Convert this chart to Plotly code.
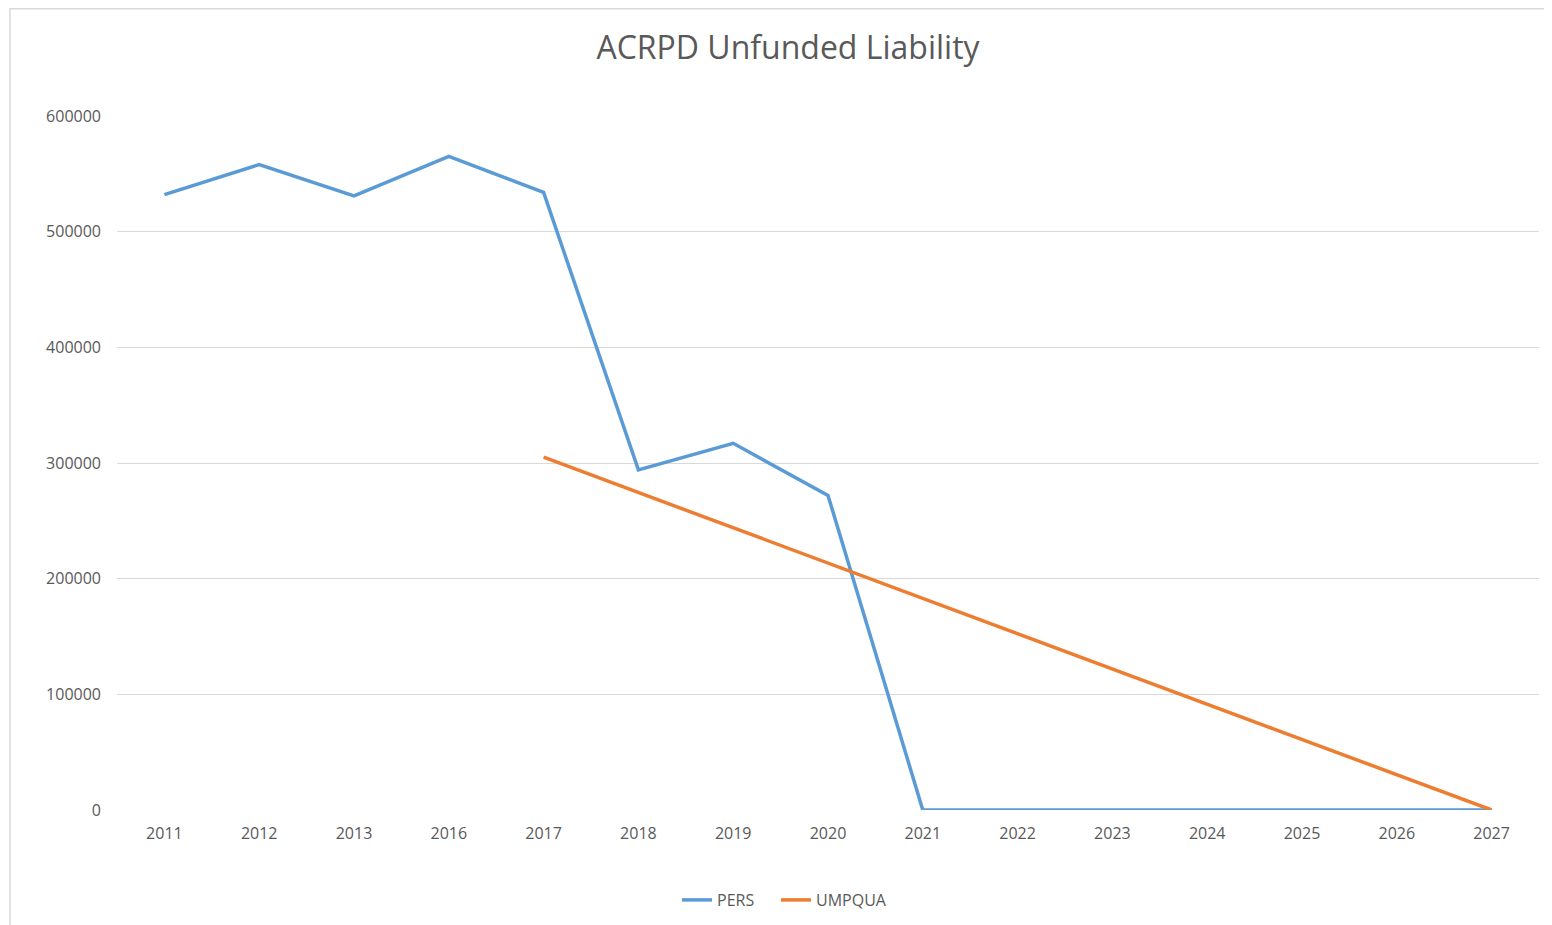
import plotly.graph_objects as go

years = ["2011", "2012", "2013", "2016", "2017", "2018", "2019", "2020",
         "2021", "2022", "2023", "2024", "2025", "2026", "2027"]
pers = [532000, 558000, 531000, 565000, 534000, 294000, 317000, 272000,
        0, 0, 0, 0, 0, 0, 0]
umpqua_years = ["2017", "2018", "2019", "2020", "2021", "2022", "2023",
                "2024", "2025", "2026", "2027"]
umpqua = [305000, 274500, 244000, 213500, 183000, 152500, 122000,
          91500, 61000, 30500, 0]
y_ticks = [0, 100000, 200000, 300000, 400000, 500000, 600000]

FONT = "Open Sans"
TXT = "#595959"
GRID = "#d9d9d9"

# page body has an 8px margin; work in page coordinates and subtract it
OFF = 8
W, H = 1552 - OFF, 925 - OFF
L, R, T, B = 117 - OFF, 13, 116 - OFF, 115
pw, ph = W - L - R, H - T - B


def px(x):
    return (x - OFF - L) / pw


def py(y):
    return (H - B - (y - OFF)) / ph


fig = go.Figure()
fig.add_trace(go.Scatter(x=years, y=pers, mode="lines", name="PERS",
                         line=dict(color="#5b9bd5", width=3.5)))
fig.add_trace(go.Scatter(x=umpqua_years, y=umpqua, mode="lines", name="UMPQUA",
                         line=dict(color="#ed7d31", width=3.5)))
# empty legend spacer so the last entry's text is not clipped by entrywidth
fig.add_trace(go.Scatter(x=[None], y=[None], mode="lines", name=" ",
                         line=dict(color="rgba(0,0,0,0)", width=0),
                         hoverinfo="skip", showlegend=True))

fig.add_shape(type="path", xref="paper", yref="paper",
              path=f"M {px(10)} {py(940)} L {px(10)} {py(8.7)} L {px(1570)} {py(8.7)}",
              line=dict(color=GRID, width=1.5), layer="below")

fig.update_layout(
    width=W, height=H,
    margin=dict(l=L, r=R, t=T, b=B, autoexpand=False),
    paper_bgcolor="white", plot_bgcolor="white",
    title=dict(text="ACRPD Unfunded Liability",
               xref="container", x=(788 - OFF) / W, xanchor="center",
               yref="container", y=1 - (48 - OFF) / H, yanchor="middle",
               font=dict(family=FONT, size=32, color=TXT)),
    font=dict(family=FONT, color=TXT),
    showlegend=True,
    legend=dict(orientation="h", x=px(677), xanchor="left",
                y=py(900), yanchor="middle",
                font=dict(family=FONT, size=16, color=TXT),
                entrywidth=54, entrywidthmode="pixels",
                tracegroupgap=0, itemclick=False, itemdoubleclick=False),
    xaxis=dict(type="category", categoryorder="array", categoryarray=years,
               range=[-0.5, len(years) - 0.5],
               showgrid=False, zeroline=False, showline=False, ticks="",
               tickfont=dict(family=FONT, size=16, color=TXT),
               ticklabelstandoff=12, fixedrange=True),
    yaxis=dict(range=[0, 600000], tickvals=y_ticks,
               ticktext=[str(v) for v in y_ticks],
               showgrid=True, gridcolor=GRID, gridwidth=1,
               zeroline=False, showline=False, ticks="",
               tickfont=dict(family=FONT, size=16, color=TXT),
               ticklabelstandoff=15, fixedrange=True),
)

fig.write_html("out.html")
